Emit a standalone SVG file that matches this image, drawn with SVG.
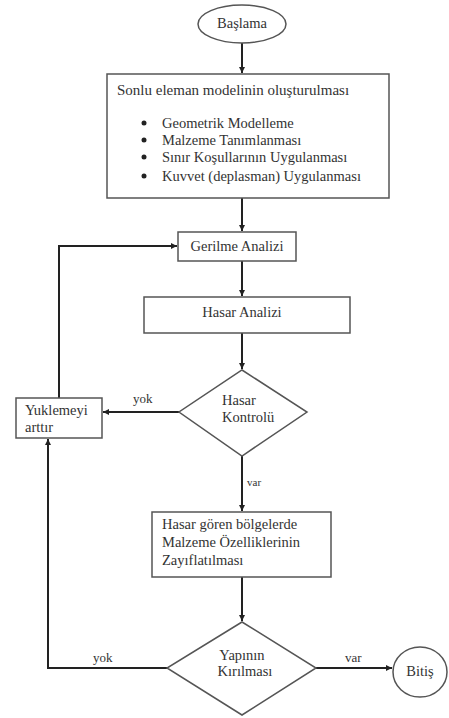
<svg xmlns="http://www.w3.org/2000/svg" width="449" height="718" viewBox="0 0 449 718">
<style>
.s{fill:#fff;stroke:#555;stroke-width:1.5}
.t{font-family:'Liberation Serif','Times New Roman',serif;font-size:14.5px;fill:#333}
.c{fill:none;stroke:#222;stroke-width:2}
</style>
<defs>
<marker id="a" viewBox="0 0 10 10" refX="10" refY="5" markerWidth="6" markerHeight="6" orient="auto" markerUnits="userSpaceOnUse"><path d="M0,0L10,5L0,10z" fill="#222"/></marker>
</defs>
<rect width="449" height="718" fill="#fff"/>
<g id="connectors">
<path class="c" d="M242,43V73" marker-end="url(#a)"/>
<path class="c" d="M242,198V231" marker-end="url(#a)"/>
<path class="c" d="M242,261V296" marker-end="url(#a)"/>
<path class="c" d="M242,333V369" marker-end="url(#a)"/>
<path class="c" d="M179,412H103" marker-end="url(#a)"/>
<path class="c" d="M59,398V246H177" marker-end="url(#a)"/>
<path class="c" d="M242,456V511" marker-end="url(#a)"/>
<path class="c" d="M242,577V621" marker-end="url(#a)"/>
<path class="c" d="M167,668H48V439" marker-end="url(#a)"/>
<path class="c" d="M316,668H392" marker-end="url(#a)"/>
<text class="t" x="133" y="403" style="font-size:13px">yok</text>
<text class="t" x="247" y="486" style="font-size:11px">var</text>
<text class="t" x="93" y="662" style="font-size:13px">yok</text>
<text class="t" x="345" y="662" style="font-size:13px">var</text>
</g>
<g id="start">
<ellipse class="s" cx="242" cy="24" rx="44" ry="19"/>
<text class="t" x="242" y="28" text-anchor="middle">Başlama</text>
</g>
<g id="model">
<rect class="s" x="107" y="74" width="282" height="124"/>
<text class="t" x="117" y="95" style="font-size:15px">Sonlu eleman modelinin oluşturulması</text>
<circle cx="144" cy="123" r="2.5" fill="#222"/>
<circle cx="144" cy="140" r="2.5" fill="#222"/>
<circle cx="144" cy="157" r="2.5" fill="#222"/>
<circle cx="144" cy="176" r="2.5" fill="#222"/>
<text class="t" x="162" y="128">Geometrik Modelleme</text>
<text class="t" x="162" y="145">Malzeme Tanımlanması</text>
<text class="t" x="162" y="162">Sınır Koşullarının Uygulanması</text>
<text class="t" x="162" y="181">Kuvvet (deplasman) Uygulanması</text>
</g>
<g id="gerilme">
<rect class="s" x="178" y="232" width="118" height="29"/>
<text class="t" x="237" y="251" text-anchor="middle">Gerilme Analizi</text>
</g>
<g id="hasar">
<rect class="s" x="144" y="297" width="206" height="36"/>
<text class="t" x="242" y="317" text-anchor="middle">Hasar Analizi</text>
</g>
<g id="kontrol">
<polygon class="s" points="242,370 307,412 242,456 179,412"/>
<text class="t" x="222" y="405">Hasar</text>
<text class="t" x="222" y="422">Kontrolü</text>
</g>
<g id="yukleme">
<rect class="s" x="16" y="398" width="86" height="40"/>
<text class="t" x="25" y="415">Yuklemeyi</text>
<text class="t" x="25" y="432">arttır</text>
</g>
<g id="zayif">
<rect class="s" x="152" y="512" width="179" height="65"/>
<text class="t" x="162" y="529">Hasar gören bölgelerde</text>
<text class="t" x="162" y="547">Malzeme Özelliklerinin</text>
<text class="t" x="162" y="565">Zayıflatılması</text>
</g>
<g id="kirilma">
<polygon class="s" points="242,622 316,668 242,715 167,668"/>
<text class="t" x="242" y="660" text-anchor="middle">Yapının</text>
<text class="t" x="245" y="676" text-anchor="middle">Kırılması</text>
</g>
<g id="bitis">
<ellipse class="s" cx="420" cy="672" rx="27" ry="25"/>
<text class="t" x="420" y="676" text-anchor="middle">Bitiş</text>
</g>
</svg>
